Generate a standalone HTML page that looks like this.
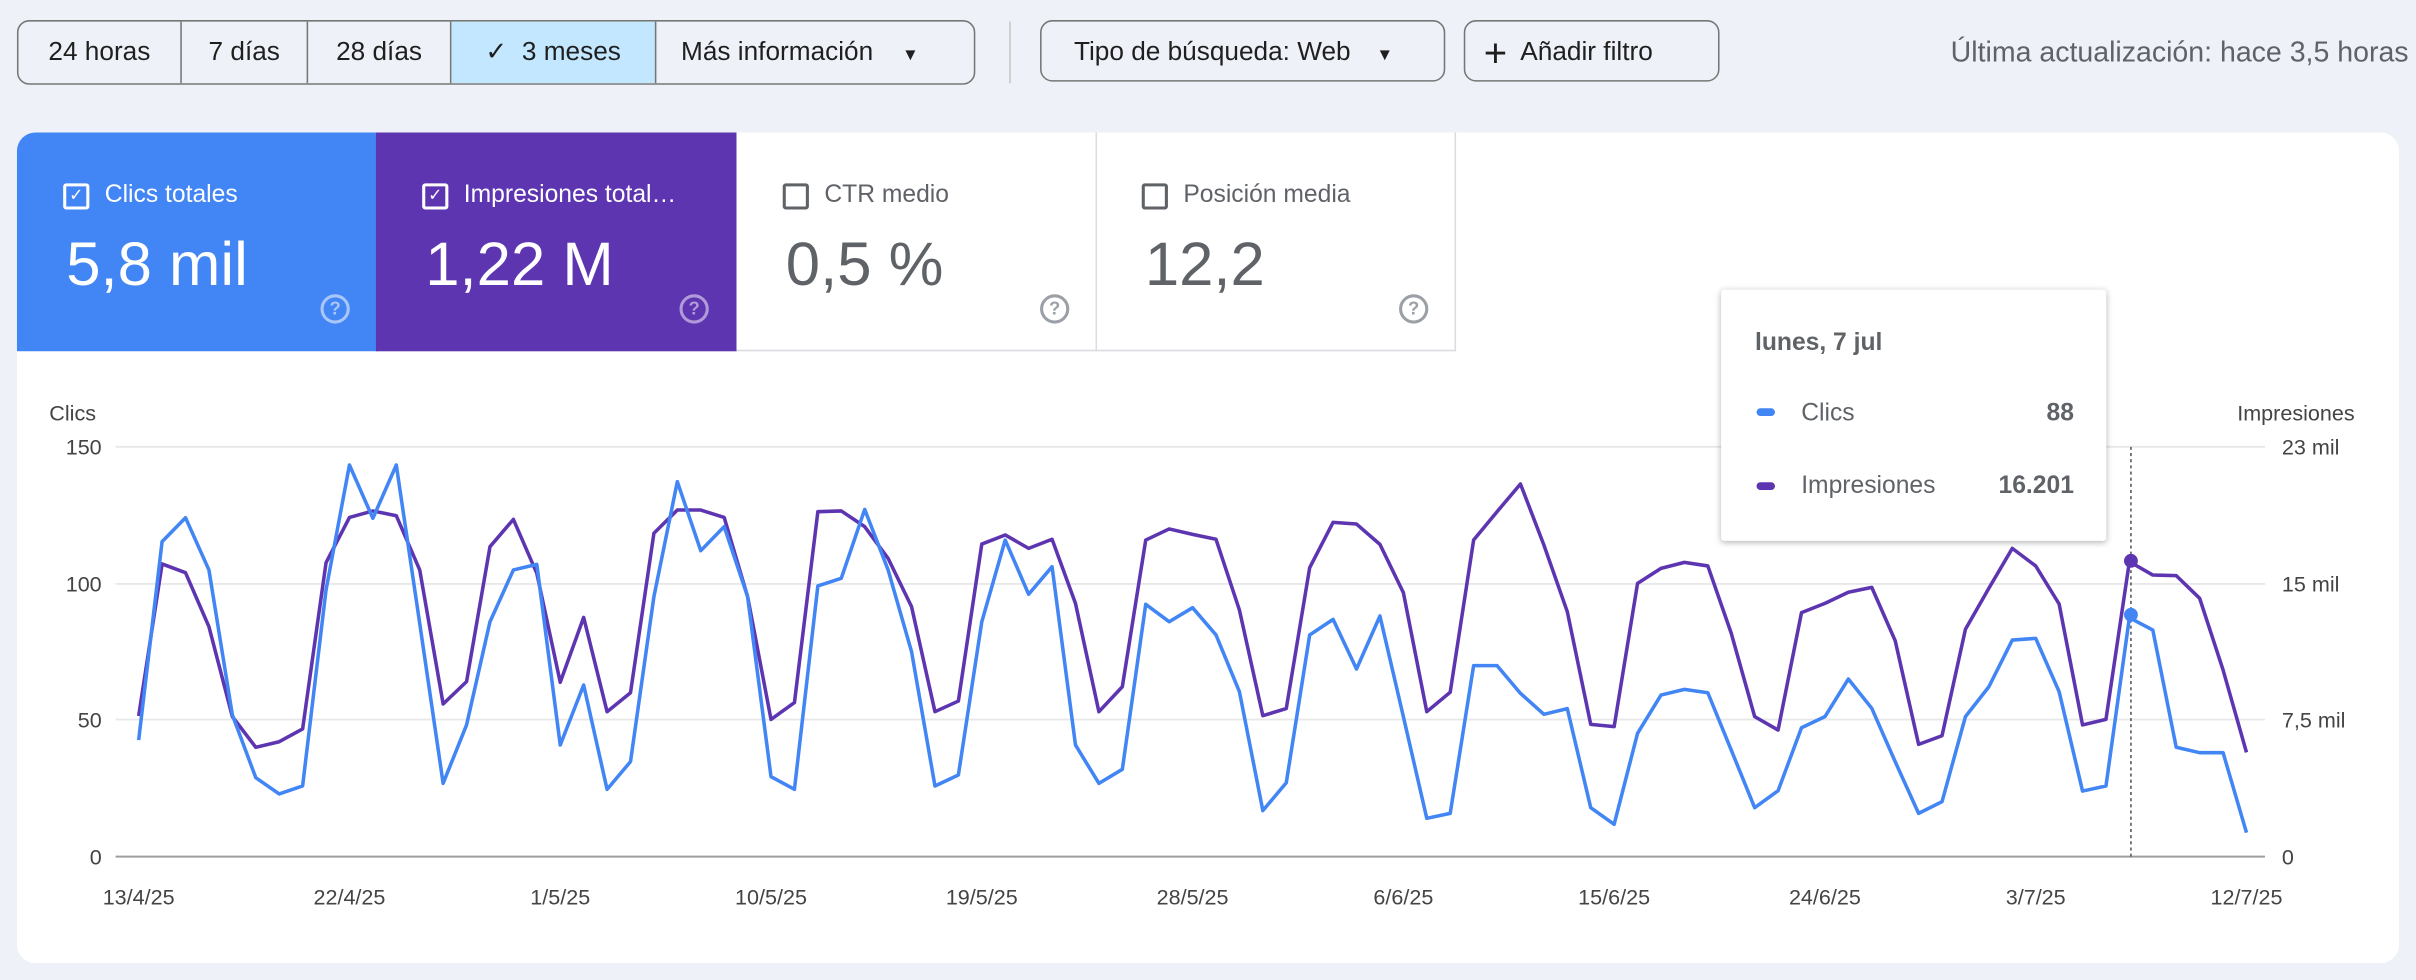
<!DOCTYPE html>
<html><head><meta charset="utf-8">
<style>
html,body{margin:0;padding:0;width:2416px;height:980px;overflow:hidden;background:#eef2f8;}
#w{position:absolute;left:0;top:0;width:1568px;height:636px;transform:scale(1.5408);transform-origin:0 0;font-family:"Liberation Sans",sans-serif;color:#1f1f1f;overflow:hidden;}
.abs{position:absolute;}
.seg{position:absolute;top:13px;height:40px;border:1px solid #747775;border-radius:8px;display:flex;overflow:hidden;background:#eef2f8;}
.seg div{height:40px;line-height:40px;font-size:17px;text-align:center;border-right:1px solid #747775;box-sizing:border-box;}
.seg div:last-child{border-right:none;}
.btn{position:absolute;top:13px;height:40px;line-height:40px;border:1px solid #747775;border-radius:8px;font-size:17px;box-sizing:border-box;}
.tile{position:absolute;top:86px;height:142px;width:234px;box-sizing:border-box;}
.cb{position:absolute;left:30px;top:33px;width:13px;height:13px;border:2px solid;border-radius:2px;}
.lab{position:absolute;left:57px;top:32px;font-size:16px;white-space:nowrap;}
.val{position:absolute;left:32px;top:64px;font-size:40px;}
.help{position:absolute;left:197px;top:105px;width:15px;height:15px;border:2px solid;border-radius:50%;font-size:12px;line-height:15px;text-align:center;font-weight:bold;}
</style></head><body>
<div id="w">
<div class="seg" style="left:11px;width:620px;">
 <div style="width:106px">24 horas</div>
 <div style="width:82px">7 días</div>
 <div style="width:93px">28 días</div>
 <div style="width:133px;background:#c2e7ff">✓&nbsp; 3 meses</div>
 <div style="flex:1;text-align:left;padding-left:16px">Más información <span style="font-size:11px;margin-left:14px">▼</span></div>
</div>
<div class="abs" style="left:655px;top:14px;width:1px;height:40px;background:#c4c7c5"></div>
<div class="btn" style="left:675px;width:263px;padding-left:21px">Tipo de búsqueda: Web <span style="font-size:11px;margin-left:12px">▼</span></div>
<div class="btn" style="left:950px;width:166px;padding-left:12px"><span style="font-size:26px;vertical-align:-4px;font-weight:300">+</span>&nbsp; Añadir filtro</div>
<div class="abs" style="left:1266px;top:23px;font-size:18.5px;color:#5f6368;white-space:nowrap">Última actualización: hace 3,5 horas</div>

<div class="abs" style="left:11px;top:86px;width:1546px;height:539px;background:#fff;border-radius:12px;overflow:hidden">
</div>
<div class="tile" style="left:11px;background:#4285f4;color:#fff;border-top-left-radius:12px">
 <div class="cb" style="border-color:#fff;font-size:11px;line-height:13px;text-align:center">✓</div><div class="lab">Clics totales</div><div class="val">5,8 mil</div><div class="help" style="border-color:#a9c6fa;color:#a9c6fa">?</div></div>
<div class="tile" style="left:244px;background:#5e35b1;color:#fff">
 <div class="cb" style="border-color:#fff;font-size:11px;line-height:13px;text-align:center">✓</div><div class="lab">Impresiones total…</div><div class="val">1,22 M</div><div class="help" style="border-color:#b09ad8;color:#b09ad8">?</div></div>
<div class="tile" style="left:478px;border-right:1px solid #dadce0;border-bottom:1px solid #dadce0;color:#5f6368">
 <div class="cb" style="border-color:#5f6368"></div><div class="lab">CTR medio</div><div class="val">0,5 %</div><div class="help" style="border-color:#9aa0a6;color:#9aa0a6">?</div></div>
<div class="tile" style="left:711px;width:234px;border-right:1px solid #dadce0;border-bottom:1px solid #dadce0;color:#5f6368">
 <div class="cb" style="border-color:#5f6368"></div><div class="lab">Posición media</div><div class="val">12,2</div><div class="help" style="border-color:#9aa0a6;color:#9aa0a6">?</div></div>

<svg class="abs" style="left:0;top:0" width="1568" height="636" id="ch">
 <g font-family="Liberation Sans, sans-serif" font-size="14" fill="#444">
  <text x="32" y="273">Clics</text>
  <text x="1452" y="273">Impresiones</text>
  <text x="66" y="295" text-anchor="end">150</text>
  <text x="66" y="384" text-anchor="end">100</text>
  <text x="66" y="472" text-anchor="end">50</text>
  <text x="66" y="561" text-anchor="end">0</text>
  <text x="1481" y="295">23 mil</text>
  <text x="1481" y="384">15 mil</text>
  <text x="1481" y="472">7,5 mil</text>
  <text x="1481" y="561">0</text>
 </g>
 <g stroke="#e8e8e8" stroke-width="1.2">
  <line x1="75" x2="1470" y1="290" y2="290"/><line x1="75" x2="1470" y1="379" y2="379"/><line x1="75" x2="1470" y1="467" y2="467"/>
 </g>
 <line x1="75" x2="1470" y1="556" y2="556" stroke="#9e9e9e" stroke-width="1.3"/>
 <g id="xl" font-family="Liberation Sans, sans-serif" font-size="14" fill="#444" text-anchor="middle"></g>
 <line x1="1383" x2="1383" y1="290" y2="556" stroke="#555" stroke-width="1" stroke-dasharray="2,2"/>
 <polyline id="pp" fill="none" stroke="#5e35b1" stroke-width="2.3" stroke-linejoin="round"/>
 <polyline id="bp" fill="none" stroke="#4285f4" stroke-width="2.3" stroke-linejoin="round"/>
 <circle cx="1383" cy="364" r="4.5" fill="#5e35b1"/>
 <circle cx="1383" cy="399" r="4.5" fill="#4285f4"/>
</svg>

<div class="abs" style="left:1117px;top:188px;width:250px;height:163px;background:#fff;box-shadow:0 1px 4px rgba(0,0,0,.3);border-radius:2px;font-size:16px;color:#5f6368">
 <div class="abs" style="left:22px;top:26px;font-weight:bold;color:#5f6368">lunes, 7 jul</div>
 <div class="abs" style="left:23px;top:77px;width:12px;height:5px;border-radius:3px;background:#4285f4"></div>
 <div class="abs" style="left:52px;top:72px">Clics</div>
 <div class="abs" style="right:21px;top:72px;font-weight:bold">88</div>
 <div class="abs" style="left:23px;top:125px;width:12px;height:5px;border-radius:3px;background:#5e35b1"></div>
 <div class="abs" style="left:52px;top:119px">Impresiones</div>
 <div class="abs" style="right:21px;top:119px;font-weight:bold">16.201</div>
</div>
</div>
<script>
var B=[930,335,263,420,855,1043,1092,1068,480,105,265,105,580,1060,885,575,420,403,945,765,1078,995,500,155,362,290,500,1040,1078,468,445,238,420,665,1068,1035,575,330,493,410,945,1060,1018,523,575,533,615,785,1142,1058,615,568,717,558,860,1165,1150,707,707,790,853,836,1133,1183,910,795,778,788,960,1133,1082,893,860,747,835,995,1150,1115,860,770,630,625,785,1083,1068,563,600,952,968,968,1208];
var P=[858,402,428,590,860,952,935,897,398,262,243,257,420,822,755,350,268,430,757,562,845,788,310,240,240,262,500,868,818,245,243,290,385,530,845,813,342,315,355,328,520,845,770,330,297,313,328,540,857,836,413,277,282,343,488,845,787,330,245,162,345,545,883,890,460,415,397,408,610,860,900,548,520,487,472,632,943,917,598,475,355,408,522,885,868,395,435,437,505,720,967];
function pts(a){return a.map(function(z,i){return (90+i*15.2).toFixed(1)+","+((430+z/3)/1.5408).toFixed(1);}).join(" ");}
document.getElementById("bp").setAttribute("points",pts(B));
document.getElementById("pp").setAttribute("points",pts(P));
var L=["13/4/25","22/4/25","1/5/25","10/5/25","19/5/25","28/5/25","6/6/25","15/6/25","24/6/25","3/7/25","12/7/25"];
var g=document.getElementById("xl"),s="";
L.forEach(function(t,i){s+='<text x="'+(90+i*9*15.2)+'" y="587">'+t+'</text>';});
g.innerHTML=s;
</script>
</body></html>
